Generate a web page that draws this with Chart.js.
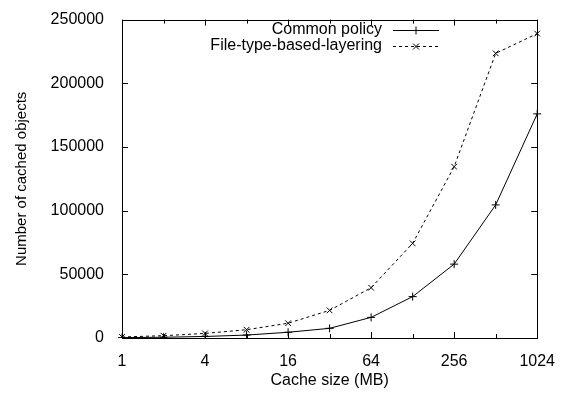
<!DOCTYPE html>
<html>
<head>
<meta charset="utf-8">
<script src="https://cdn.jsdelivr.net/npm/chart.js@4"></script>
<style>
  html, body { margin: 0; padding: 0; background: #fff; }
  #wrap { width: 561px; height: 394px; }
</style>
</head>
<body>
<div id="wrap"><canvas id="chart"></canvas></div>
<script>
const cacheSizes = [1, 2, 4, 8, 16, 32, 64, 128, 256, 512, 1024];
const commonPolicy = [300, 600, 1200, 2300, 4500, 7600, 16200, 32500, 58000, 104500, 176000];
const fileTypeLayering = [800, 1800, 3600, 6500, 11600, 21700, 39500, 74300, 134500, 223500, 239000];
const yTicks = [0, 50000, 100000, 150000, 200000, 250000];

const FONT = 'Liberation Sans, Arial, Helvetica, sans-serif';

function drawMarker(ctx, style, x, y, r) {
    ctx.beginPath();
    if (style === 'cross') {
        ctx.moveTo(x - r, y); ctx.lineTo(x + r, y);
        ctx.moveTo(x, y - r); ctx.lineTo(x, y + r);
    } else {
        ctx.moveTo(x - r, y - r); ctx.lineTo(x + r, y + r);
        ctx.moveTo(x - r, y + r); ctx.lineTo(x + r, y - r);
    }
    ctx.stroke();
}

// gnuplot-ish frame with inward ticks and a legend inside the top right
const framePlugin = {
    id: 'frame',
    afterDraw(chart) {
        const ctx = chart.ctx;
        const a = chart.chartArea;
        const xs = chart.scales.x, ys = chart.scales.y;
        ctx.save();
        ctx.strokeStyle = '#000';
        ctx.lineWidth = 1;
        ctx.setLineDash([]);
        ctx.strokeRect(Math.round(a.left) + 0.5, Math.round(a.top) + 0.5,
            Math.round(a.right - a.left), Math.round(a.bottom - a.top));

        ctx.beginPath();
        cacheSizes.forEach((c, i) => {
            const px = Math.round(xs.getPixelForValue(i)) + 0.5;
            const len = i % 2 === 0 ? 6 : 4;
            ctx.moveTo(px, a.bottom); ctx.lineTo(px, a.bottom - len);
            ctx.moveTo(px, a.top); ctx.lineTo(px, a.top + len);
        });
        yTicks.forEach(v => {
            const py = Math.round(ys.getPixelForValue(v)) + 0.5;
            ctx.moveTo(a.left, py); ctx.lineTo(a.left + 6, py);
            ctx.moveTo(a.right, py); ctx.lineTo(a.right - 6, py);
        });
        ctx.stroke();

        // legend
        ctx.font = '16px ' + FONT;
        ctx.fillStyle = '#000';
        ctx.textAlign = 'right';
        ctx.textBaseline = 'middle';
        chart.data.datasets.forEach((ds, i) => {
            const y = 30 + i * 16;
            ctx.fillText(ds.label, 382, y);
            ctx.setLineDash(ds.borderDash || []);
            ctx.beginPath();
            ctx.moveTo(393, y + 0.5); ctx.lineTo(439, y + 0.5);
            ctx.stroke();
            ctx.setLineDash([]);
            drawMarker(ctx, ds.pointStyle, 416, y + 0.5, ds.pointStyle === 'cross' ? 4 : 3);
        });
        ctx.restore();
    }
};

new Chart(document.getElementById('chart'), {
    type: 'line',
    data: {
        labels: cacheSizes.map(String),
        datasets: [{
            label: 'Common policy',
            data: commonPolicy,
            borderColor: '#000',
            backgroundColor: '#000',
            borderWidth: 1,
            pointStyle: 'cross',
            pointRadius: 4,
            pointBorderWidth: 1,
            pointBorderColor: '#000',
            tension: 0,
            fill: false
        }, {
            label: 'File-type-based-layering',
            data: fileTypeLayering,
            borderColor: '#000',
            backgroundColor: '#000',
            borderWidth: 1,
            borderDash: [3, 3],
            pointStyle: 'crossRot',
            pointRadius: 4,
            pointBorderWidth: 1,
            pointBorderColor: '#000',
            tension: 0,
            fill: false
        }]
    },
    options: {
        responsive: true,
        maintainAspectRatio: false,
        animation: false,
        layout: { padding: { left: 0, right: 21, top: 15, bottom: 0 } },
        plugins: {
            legend: { display: false },
            tooltip: { enabled: false }
        },
        scales: {
            x: {
                type: 'category',
                offset: false,
                grid: { display: false },
                border: { display: false },
                ticks: {
                    color: '#000',
                    font: { family: FONT, size: 16 },
                    padding: 6,
                    maxRotation: 0,
                    autoSkip: false,
                    callback: function (value, index) {
                        return index % 2 === 0 ? cacheSizes[index] : '';
                    }
                },
                title: {
                    display: true,
                    text: 'Cache size (MB)',
                    color: '#000',
                    font: { family: FONT, size: 16 },
                    padding: { top: 0, bottom: 4 }
                },
                afterFit(scale) { scale.height = 56; }
            },
            y: {
                min: 0,
                max: 250000,
                grid: { display: false },
                border: { display: false },
                ticks: {
                    stepSize: 50000,
                    color: '#000',
                    font: { family: FONT, size: 16 },
                    padding: 10,
                    callback: v => String(v)
                },
                title: {
                    display: true,
                    text: 'Number of cached objects',
                    color: '#000',
                    font: { family: FONT, size: 15 },
                    padding: { top: 13, bottom: 0 }
                },
                afterFit(scale) { scale.width = 122; }
            }
        }
    },
    plugins: [framePlugin]
});
</script>
</body>
</html>
